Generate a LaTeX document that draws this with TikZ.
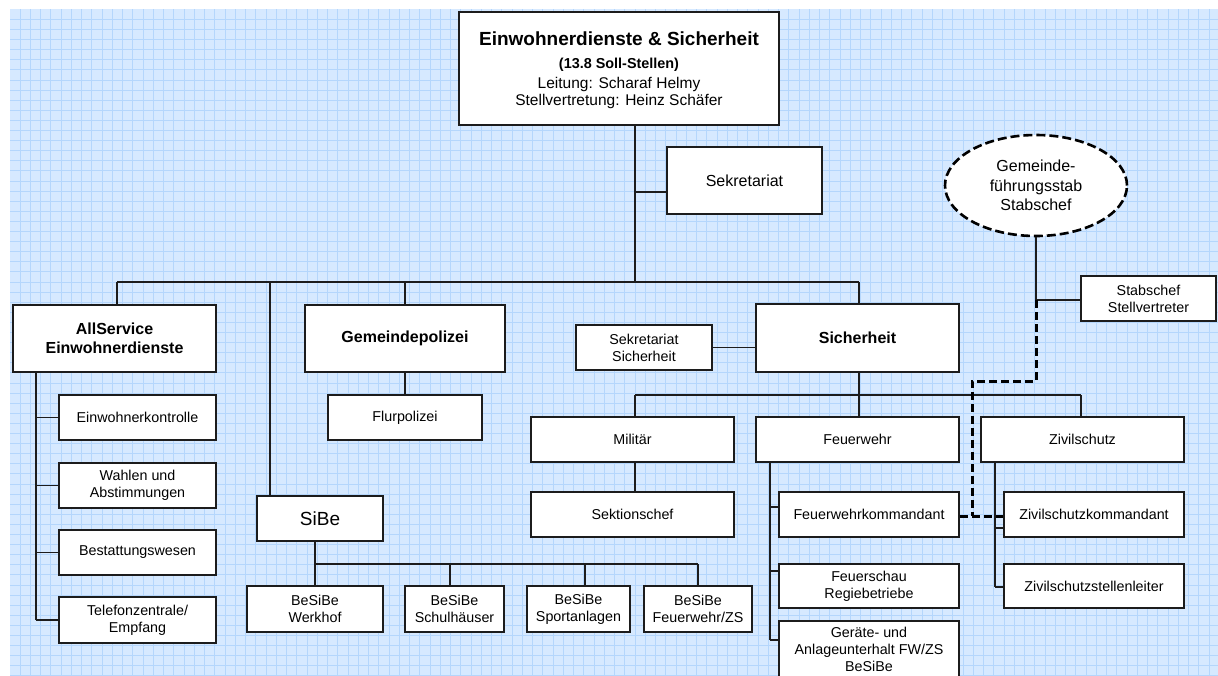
\documentclass[tikz,border=0pt]{standalone}
\usepackage{fontspec}
\setmainfont{Liberation Sans}
\usetikzlibrary{shapes.geometric}
\definecolor{gridbg}{RGB}{214,233,255}
\definecolor{gridln}{RGB}{180,214,252}
\definecolor{ink}{RGB}{28,28,28}

\begin{document}
\begin{tikzpicture}[x=1pt,y=-1pt,
  box/.style={draw=ink, fill=white, line width=1.4pt, align=center, inner sep=0pt,
              font=\fontsize{14.3}{17}\selectfont},
  bbox/.style={box, font=\fontsize{16}{19}\selectfont\bfseries},
  wh/.style 2 args={minimum width=#1, minimum height=#2},
  wire/.style={draw=ink, line width=1.3pt},
  dwire/.style={draw=black, line width=3pt, dash pattern=on 8pt off 4pt},
]
\useasboundingbox (0,0) rectangle (1218,675);

% squared paper background
\fill[gridbg] (10,9) rectangle (1218,675);
\foreach \i in {0,...,117} \draw[gridln, line width=0.7pt] (20+\i*10.25,9) -- (20+\i*10.25,675);
\foreach \j in {0,...,65} \draw[gridln, line width=0.7pt] (10,19.3+\j*10.1) -- (1218,19.3+\j*10.1);

% head of department
\node[box, wh={320pt}{113pt}] (top) at (619,68.5) {};
\node[anchor=base, font=\fontsize{19}{22}\selectfont\bfseries] (t1) at (619,45) {Einwohnerdienste \& Sicherheit};
\node[anchor=base, font=\fontsize{14.4}{17}\selectfont\bfseries] (t2) at (619,68) {(13.8 Soll-Stellen)};
\node[anchor=base, font=\fontsize{15.5}{18}\selectfont] (t3) at (619,88.7) {Leitung: Scharaf Helmy};
\node[anchor=base, font=\fontsize{15.5}{18}\selectfont] (t4) at (619,105.7) {Stellvertretung: Heinz Schäfer};

\node[box, wh={155pt}{67pt}, font=\fontsize{16}{19}\selectfont] (sek) at (744.5,180.5) {Sekretariat};

% staff
\node[ellipse, draw=black, fill=white, line width=2.6pt, dash pattern=on 9pt off 4pt,
      inner sep=0pt, wh={182pt}{101pt}, align=center, font=\fontsize{16}{19.5}\selectfont]
      (ell) at (1036,185.5) {Gemeinde-\\führungsstab\\Stabschef};
\node[box, wh={135pt}{45pt}] (stv) at (1148.5,298.5) {Stabschef\\Stellvertreter};

% AllService column
\node[bbox, wh={203pt}{67pt}] (allserv) at (114.5,338.5) {AllService\\Einwohnerdienste};
\node[box, wh={157pt}{45pt}] (einw) at (137.5,417.5) {Einwohnerkontrolle};
\node[box, wh={157pt}{45pt}] (wahl) at (137.5,485.5) {Wahlen und\\Abstimmungen};
\node[box, wh={157pt}{45pt}] (best) at (137.5,552.5) {Bestattungswesen};
\node[box, wh={157pt}{46pt}] (tel)  at (137.5,620) {Telefonzentrale/\\Empfang};

% Gemeindepolizei
\node[bbox, wh={200pt}{67pt}] (gpol) at (405,338.5) {Gemeindepolizei};
\node[box, wh={154pt}{45pt}] (flur) at (405,417.5) {Flurpolizei};

% SiBe
\node[box, wh={126pt}{45pt}, font=\fontsize{19}{22}\selectfont] (sibe) at (320,518.5) {SiBe};
\node[box, wh={136pt}{46pt}] (bw)  at (315,609) {BeSiBe\\Werkhof};
\node[box, wh={99pt}{46pt}]  (bs)  at (454.5,609) {BeSiBe\\Schulhäuser};
\node[box, wh={103pt}{46pt}] (bsp) at (578.5,609) {BeSiBe\\Sportanlagen};
\node[box, wh={108pt}{46pt}] (bfz) at (698,609) {BeSiBe\\Feuerwehr/ZS};

% Sicherheit
\node[bbox, wh={203pt}{68pt}] (sich) at (857.5,338) {Sicherheit};
\node[box, wh={136pt}{45pt}] (seksich) at (644,347.5) {Sekretariat\\Sicherheit};
\node[box, wh={203pt}{45pt}] (mil) at (632.5,439.5) {Militär};
\node[box, wh={203pt}{45pt}] (sekt) at (632.5,514.5) {Sektionschef};
\node[box, wh={203pt}{45pt}] (feuer) at (857.5,439.5) {Feuerwehr};
\node[box, wh={203pt}{45pt}] (ziv) at (1082.5,439.5) {Zivilschutz};
\node[box, wh={180pt}{45pt}] (fwk) at (869,514.5) {Feuerwehrkommandant};
\node[box, wh={180pt}{44pt}] (fsch) at (869,586) {Feuerschau\\Regiebetriebe};
\node[box, wh={180pt}{56pt}] (ger) at (869,649) {Geräte- und\\Anlageunterhalt FW/ZS\\BeSiBe};
\node[box, wh={180pt}{45pt}] (zk) at (1094,514.5) {Zivilschutzkommandant};
\node[box, wh={180pt}{44pt}] (zsl) at (1094,586) {Zivilschutzstellenleiter};

% main trunk and first-level bus
\coordinate (trunk) at (635,282);
\coordinate (busL) at (117,282);
\coordinate (busR) at (859,282);
\coordinate (sibeX) at (270,282);
\coordinate (gpolX) at (405,282);
\coordinate (sekT) at (635,192);
\draw[wire] (top.south -| trunk) -- (trunk);
\draw[wire] (sekT) -- (sekT -| sek.west);
\draw[wire] (busL) -- (busR);
\draw[wire] (busL) -- (busL |- allserv.north);
\draw[wire] (sibeX) -- (sibeX |- sibe.north);
\draw[wire] (gpolX) -- (gpolX |- gpol.north);
\draw[wire] (busR) -- (busR |- sich.north);

% AllService children
\coordinate (asp) at (36,372);
\draw[wire] (asp) -- (asp |- tel.west);
\foreach \n in {einw,wahl,best,tel} \draw[wire] (asp |- \n.west) -- (\n.west);

% Gemeindepolizei
\draw[wire] (gpol.south) -- (flur.north);

% SiBe children
\coordinate (sbL) at (315,564);
\coordinate (sbR) at (698,564);
\coordinate (sbS) at (450,564);
\coordinate (sbP) at (585,564);
\draw[wire] (sbL |- sibe.south) -- (sbL) -- (sbR);
\draw[wire] (sbL) -- (sbL |- bw.north);
\draw[wire] (sbS) -- (sbS |- bs.north);
\draw[wire] (sbP) -- (sbP |- bsp.north);
\draw[wire] (sbR) -- (sbR |- bfz.north);

% Sicherheit children
\coordinate (sbus) at (859,395);
\coordinate (milX) at (635,395);
\coordinate (zivX) at (1081,395);
\draw[wire] (seksich.east) -- (seksich.east -| sich.west);
\draw[wire] (sbus |- sich.south) -- (sbus |- feuer.north);
\draw[wire] (milX) -- (zivX);
\draw[wire] (milX) -- (milX |- mil.north);
\draw[wire] (zivX) -- (zivX |- ziv.north);
\draw[wire] (milX |- mil.south) -- (milX |- sekt.north);

% Feuerwehr children
\coordinate (fsp) at (770,462);
\coordinate (fs1) at (770,507);
\coordinate (fs2) at (770,571);
\coordinate (fs3) at (770,640);
\draw[wire] (fsp) -- (fs3);
\draw[wire] (fs1) -- (fs1 -| fwk.west);
\draw[wire] (fs2) -- (fs2 -| fsch.west);
\draw[wire] (fs3) -- (fs3 -| ger.west);

% Zivilschutz children
\coordinate (zsp) at (995,462);
\coordinate (zs1) at (995,528);
\coordinate (zs2) at (995,587);
\draw[wire] (zsp) -- (zs2);
\draw[wire] (zs1) -- (zs1 -| zk.west);
\draw[wire] (zs2) -- (zs2 -| zsl.west);

% staff line and dashed command link
\coordinate (sj) at (1036,300);
\coordinate (d1) at (1036,381);
\coordinate (d2) at (972,381);
\coordinate (d3) at (972,516);
\draw[wire] (ell.south) -- (sj) -- (sj -| stv.west);
\draw[dwire] (sj) -- (d1) -- (d2) -- (d3);
\draw[dwire] (d3 -| fwk.east) -- (d3 -| zk.west);
\end{tikzpicture}
\end{document}
